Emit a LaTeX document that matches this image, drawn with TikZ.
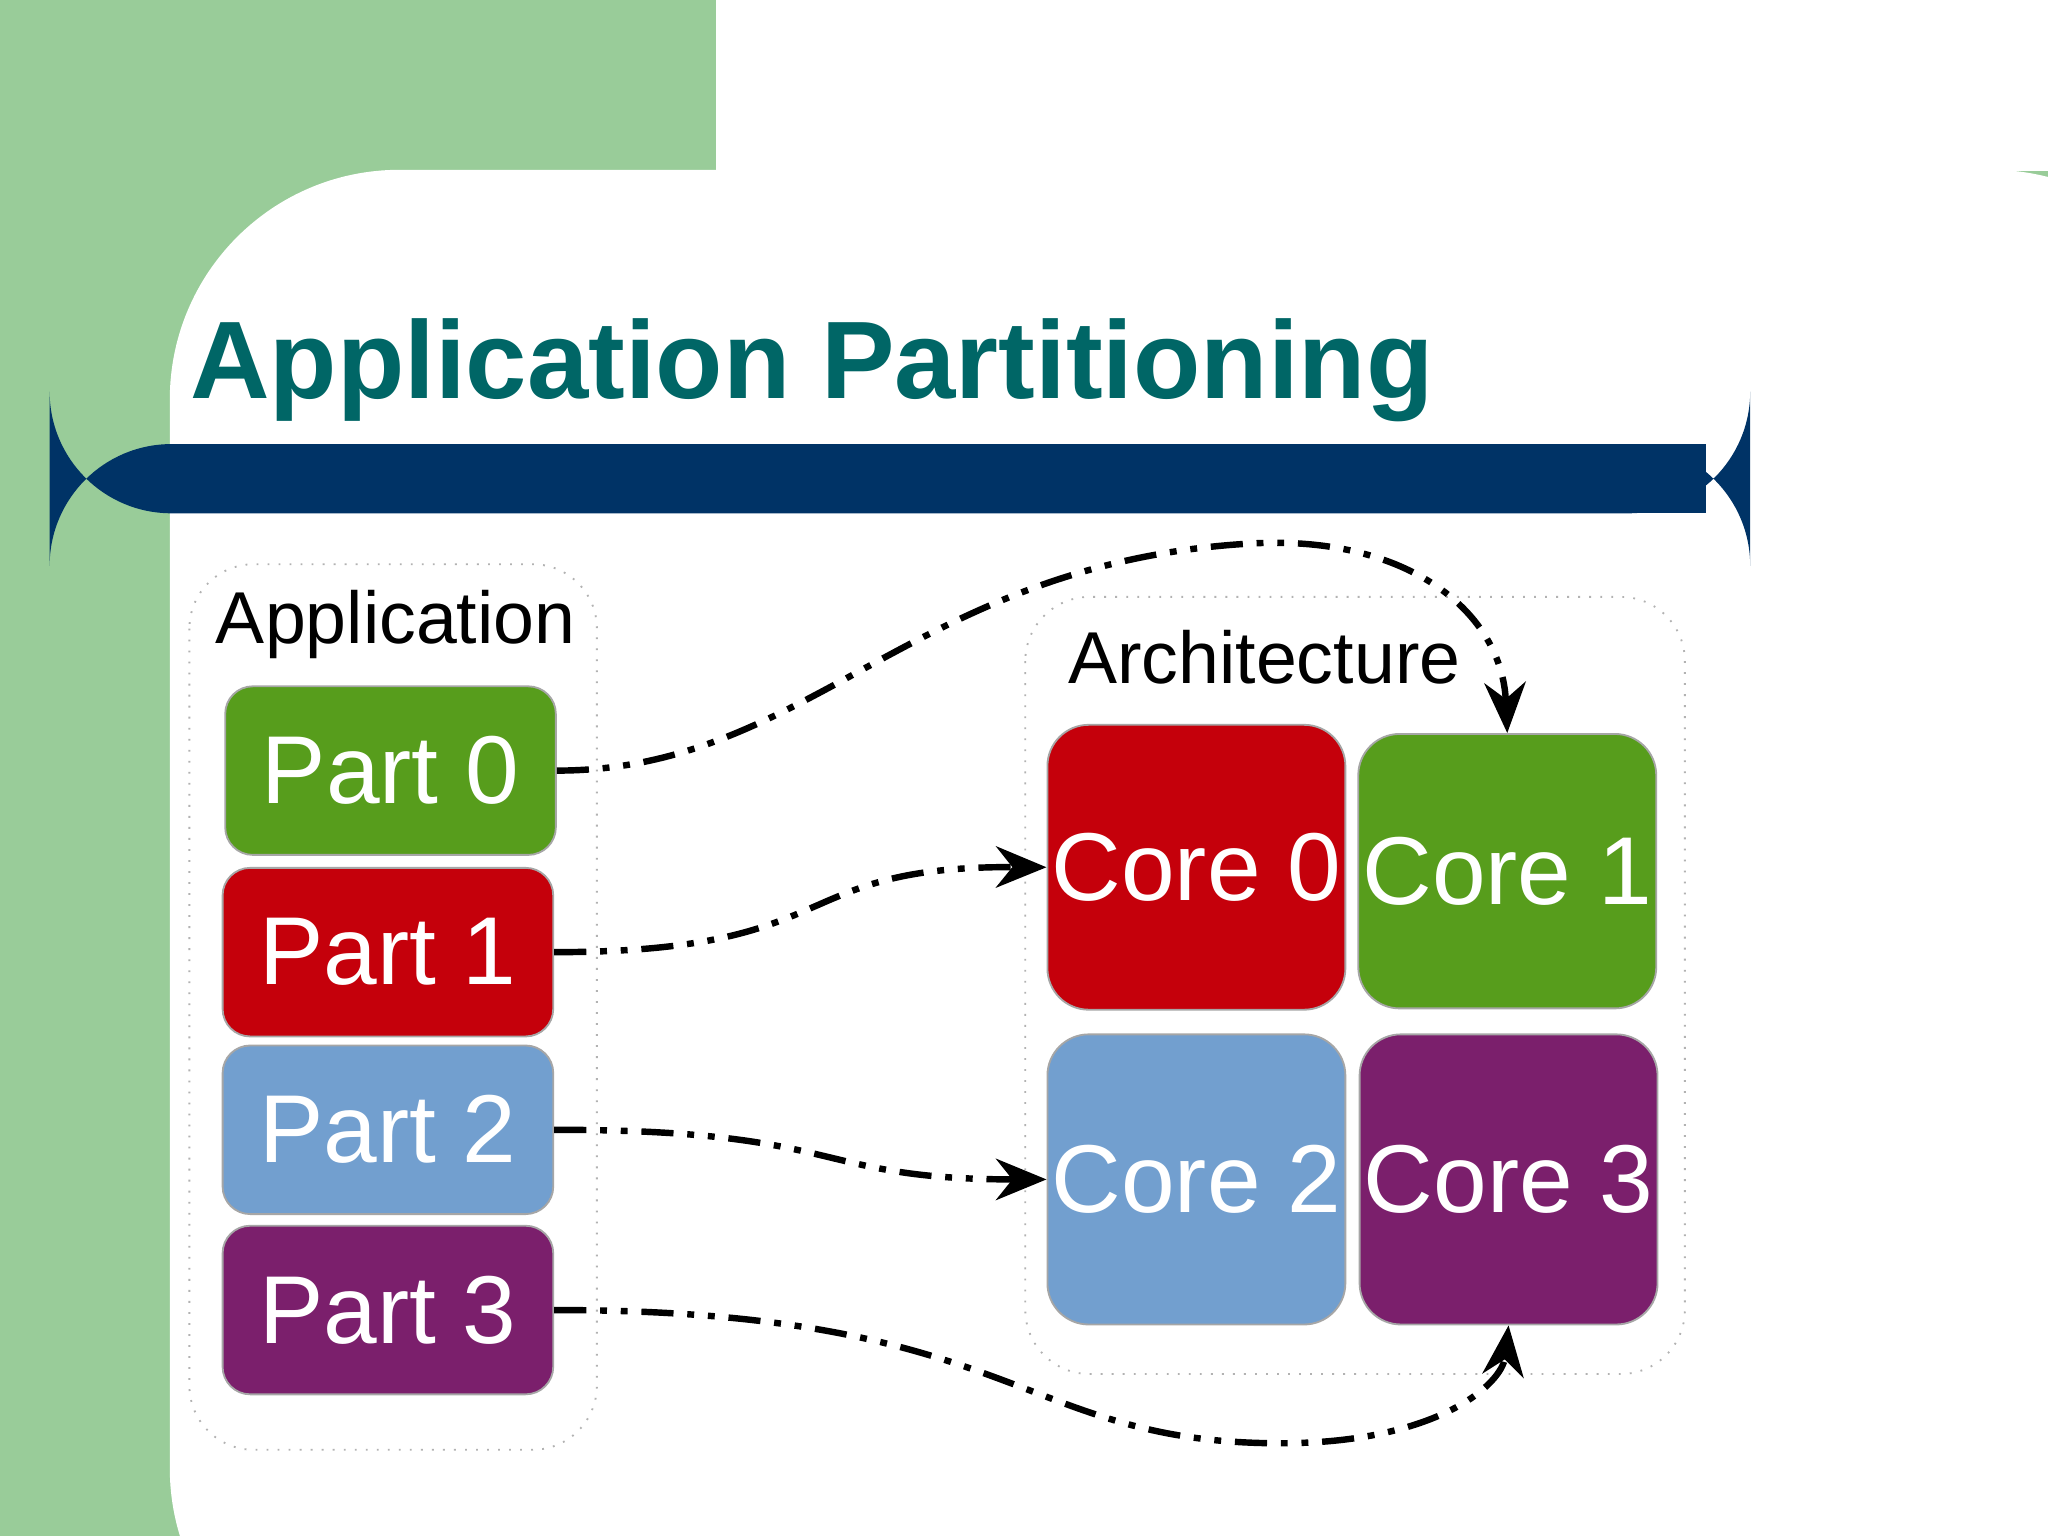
\documentclass[tikz,border=0pt]{standalone}
\usepackage{fontspec}
\setmainfont{Liberation Sans}
\usetikzlibrary{arrows.meta}
\definecolor{bggreen}{HTML}{99CC99}
\definecolor{navy}{HTML}{003366}
\definecolor{titleteal}{HTML}{006666}
\definecolor{cgreen}{HTML}{579D1C}
\definecolor{cred}{HTML}{C5000B}
\definecolor{cblue}{HTML}{729FCF}
\definecolor{cpurple}{HTML}{7B1F6C}
\begin{document}
\begin{tikzpicture}[x=0.01cm,y=-0.01cm,
    box/.style={draw=black!30,rounded corners=14pt,dotted,thin},
    part/.style={draw=black!35,rounded corners=6pt,minimum width=2.53cm,minimum height=1.29cm,
      text=white,font=\fontsize{21}{24}\selectfont,inner sep=0pt},
    core/.style={draw=black!35,rounded corners=9pt,minimum width=2.28cm,minimum height=2.18cm,
      text=white,font=\fontsize{21}{24}\selectfont,inner sep=0pt},
    link/.style={-{Stealth[length=11pt,width=9pt]},line width=1.4pt,
      dash pattern=on 7pt off 3pt on 1.5pt off 3pt on 1.5pt off 3pt}]
  \useasboundingbox (0,0) rectangle (1568,1176);
  \fill[bggreen] (0,0) rectangle (1568,1176);
  \fill[white,rounded corners=50] (130,130) rectangle (1700,1300);
  \fill[white] (548,0) rectangle (1568,131);
  \node[anchor=base west,text=titleteal,font=\fontsize{24}{28}\selectfont\bfseries,inner sep=0pt]
    (title) at (145,305) {Application Partitioning};
  \fill[navy,rounded corners=26.5] (38,340) rectangle (1340,393);
  \fill[navy] (1000,340) rectangle (1306,393);

  \draw[box] (145,432) rectangle (457,1110);
  \node[font=\fontsize{16}{19}\selectfont] (app) at (303,478) {Application};
  \draw[box] (785,457) rectangle (1290,1052);
  \node[font=\fontsize{16}{19}\selectfont] (arch) at (968,503) {Architecture};

  \node[part,fill=cgreen] (p0) at (299,590) {Part 0};
  \node[part,fill=cred] (p1) at (297,729) {Part 1};
  \node[part,fill=cblue] (p2) at (297,865) {Part 2};
  \node[part,fill=cpurple] (p3) at (297,1003) {Part 3};

  \node[core,fill=cred] (c0) at (916,664) {Core 0};
  \node[core,fill=cgreen,minimum height=2.1cm] (c1) at (1154,667) {Core 1};
  \node[core,fill=cblue,minimum height=2.22cm] (c2) at (916,903) {Core 2};
  \node[core,fill=cpurple,minimum height=2.22cm] (c3) at (1155,903) {Core 3};

  \draw[link] (p0.east) .. controls (620,590) and (700,430) .. (960,416)
    .. controls (1080,410) and (1150,470) .. (c1.north);
  \draw[link] (p1.east) .. controls (650,729) and (600,663) .. (c0.west);
  \draw[link] (p2.east) .. controls (650,865) and (620,903) .. (c2.west);
  \draw[link] (p3.east) .. controls (780,1003) and (780,1105) .. (980,1105)
    .. controls (1100,1105) and (1150,1060) .. (c3.south);
\end{tikzpicture}
\end{document}
